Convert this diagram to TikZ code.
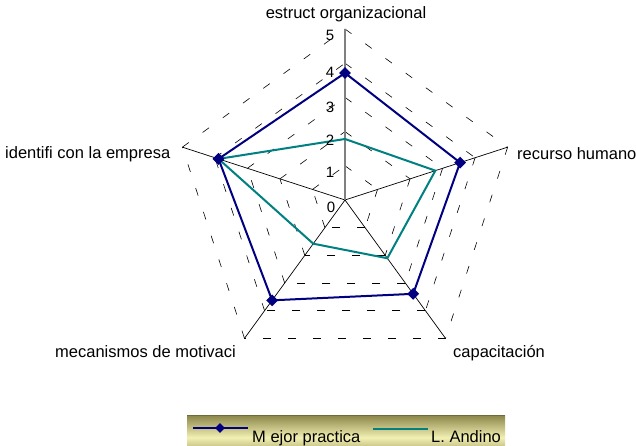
\documentclass[tikz,border=0pt]{standalone}
\usepackage{fontspec}
\setmainfont{Liberation Sans}
\usetikzlibrary{shapes.geometric}
\definecolor{navyc}{HTML}{000080}
\definecolor{tealc}{HTML}{008080}
\definecolor{olivec}{HTML}{8A8448}
\definecolor{palec}{HTML}{F3F0B4}
\begin{document}
\begin{tikzpicture}[x=1pt,y=1pt,
  lbl/.style={font=\fontsize{16.5}{18}\selectfont, inner sep=0pt},
  num/.style={font=\fontsize{15}{17}\selectfont, inner sep=0pt},
  gridln/.style={black, line width=0.6pt, dash pattern=on 8pt off 17pt},
  spoke/.style={black, line width=0.7pt},
  vaxis/.style={gray, line width=1.3pt},
  best/.style={navyc, line width=2pt, line join=miter},
  andino/.style={tealc, line width=2pt, line join=miter},
  mk/.style={diamond, aspect=1, fill=navyc, draw=none, minimum width=12pt, minimum height=12pt, inner sep=0pt}]
\useasboundingbox (0,0) rectangle (636,445);
\clip (0,0) rectangle (636,445);
\fill[white] (0,0) rectangle (636,445);
\begin{scope}[shift={(345,245)}]
  % grid pentagons
  \foreach \r in {34.2,68.4,102.6,136.8,171} {
    \coordinate (g1) at (90:\r);
    \coordinate (g2) at (18:\r);
    \coordinate (g3) at (-54:\r);
    \coordinate (g4) at (-126:\r);
    \coordinate (g5) at (162:\r);
    \draw[gridln] (g1) -- (g2);
    \draw[gridln] (g2) -- (g3);
    \draw[gridln] (g3) -- (g4);
    \draw[gridln] (g4) -- (g5);
    \draw[gridln] (g5) -- (g1);
  }
  \coordinate (O) at (0,0);
  \coordinate (A1) at (90:171);
  \coordinate (A2) at (18:171);
  \coordinate (A3) at (-54:171);
  \coordinate (A4) at (-126:171);
  \coordinate (A5) at (162:171);
  \draw[spoke] (O) -- (A2);
  \draw[spoke] (O) -- (A3);
  \draw[spoke] (O) -- (A4);
  \draw[spoke] (O) -- (A5);
  \draw[vaxis] (O) -- (A1);
  % data
  \coordinate (T1) at (90:61);
  \coordinate (T2) at (18:95);
  \coordinate (T3) at (-54:72);
  \coordinate (T4) at (-126:54);
  \coordinate (T5) at (162:133);
  \draw[andino] (T1) -- (T2) -- (T3) -- (T4) -- (T5) -- cycle;
  \coordinate (B1) at (90:127);
  \coordinate (B2) at (18:121);
  \coordinate (B3) at (-54:116);
  \coordinate (B4) at (-126:124);
  \coordinate (B5) at (162:133);
  \draw[best] (B1) -- (B2) -- (B3) -- (B4) -- (B5) -- cycle;
  \foreach \p in {B1,B2,B3,B4,B5} \node[mk] (m\p) at (\p) {};
\end{scope}
% value axis labels
\node[num] (v5) at (330,410) {5};
\node[num] (v4) at (330,373) {4};
\node[num] (v3) at (330,338) {3};
\node[num] (v2) at (330,305) {2};
\node[num] (v1) at (330,273) {1};
\node[num] (v0) at (331,238) {0};
% category labels
\node[lbl, anchor=base] (c1) at (346,426) {estruct organizacional};
\node[lbl, anchor=base west] (c2) at (517,286) {recurso humano};
\node[lbl, anchor=base west] (c5) at (5,287) {identifi con la empresa};
\node[lbl, anchor=base west] (c4) at (55,88) {mecanismos de motivaci};
\node[lbl, anchor=base west] (c3) at (453,88) {capacitación};
% legend
\shade[top color=olivec, bottom color=olivec, middle color=palec] (187,-15) rectangle (505,30);
\draw[olivec!80!black, line width=0.6pt] (187,30) -- (505,30);
\coordinate (l1a) at (193,17);
\coordinate (l1b) at (248,17);
\draw[best] (l1a) -- (l1b);
\node[mk, minimum width=10pt, minimum height=10pt] (lm) at (220,17) {};
\node[lbl, anchor=base west] (lt1) at (252,3) {M ejor practica};
\coordinate (l2a) at (373,16);
\coordinate (l2b) at (428,16);
\draw[andino] (l2a) -- (l2b);
\node[lbl, anchor=base west] (lt2) at (431,3) {L. Andino};
\end{tikzpicture}
\end{document}
